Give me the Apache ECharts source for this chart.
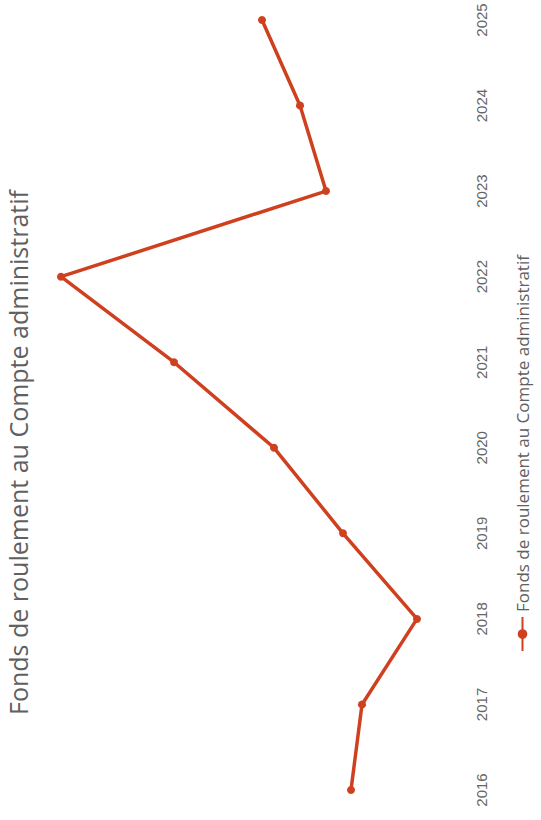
<!DOCTYPE html>
<html>
<head>
<meta charset="utf-8">
<script src="https://cdn.jsdelivr.net/npm/echarts@6/dist/echarts.min.js"></script>
<style>
  html, body { margin: 0; padding: 0; background: #ffffff; width: 541px; height: 820px; overflow: hidden; }
  /* The chart is laid out landscape and turned a quarter turn counter-clockwise on the page */
  #chart {
    position: absolute; left: 0; top: 0;
    width: 820px; height: 541px;
    transform-origin: 0 0;
    transform: translateY(820px) rotate(-90deg);
  }
</style>
</head>
<body>
<div id="chart"></div>
<script>
// Fonds de roulement au Compte administratif, by year
const years = ['2016', '2017', '2018', '2019', '2020', '2021', '2022', '2023', '2024', '2025'];
const fondsRoulement = [89, 78, 23, 97, 166, 266, 379, 114, 140, 178];
const seriesName = 'Fonds de roulement au Compte administratif';
const chartTitle = 'Fonds de roulement au Compte administratif';

const chart = echarts.init(document.getElementById('chart'), null, { renderer: 'svg' });

chart.setOption({
  backgroundColor: '#ffffff',
  animation: false,
  title: {
    text: chartTitle,
    left: 100,
    top: 0,
    textStyle: { fontFamily: 'Open Sans', fontSize: 25, fontWeight: 'normal', color: '#606060' }
  },
  legend: {
    data: [seriesName],
    left: 163,
    top: 509,
    itemWidth: 34,
    itemHeight: 12,
    itemGap: 4,
    textStyle: { fontFamily: 'Open Sans', fontSize: 17, color: '#606060' }
  },
  grid: { left: 30, right: 20, top: 40, bottom: 101, containLabel: false },
  xAxis: {
    type: 'category',
    data: years,
    boundaryGap: false,
    axisLine: { show: false },
    axisTick: { show: false },
    splitLine: { show: false },
    axisLabel: {
      margin: 34,
      fontFamily: 'Liberation Sans',
      fontSize: 15,
      color: '#666666'
    }
  },
  yAxis: {
    type: 'value',
    min: 0,
    max: 400,
    show: false
  },
  series: [{
    name: seriesName,
    type: 'line',
    data: fondsRoulement,
    symbol: 'circle',
    symbolSize: 8,
    lineStyle: { color: '#cf401f', width: 3.5 },
    itemStyle: { color: '#cf401f' }
  }]
});
</script>
</body>
</html>
